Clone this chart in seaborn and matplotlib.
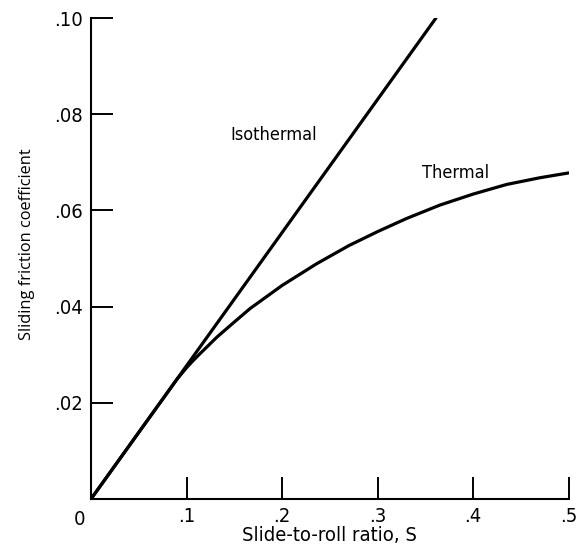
import matplotlib
matplotlib.use("Agg")
import numpy as np
import pandas as pd
import matplotlib.pyplot as plt
import seaborn as sns

# ==============================================================================
# DATA
# ==============================================================================
iso_s = [0.0, 0.361]
iso_f = [0.0, 0.100]

thermal_s = [0.0, 0.05, 0.09, 0.10, 0.107, 0.114, 0.132, 0.15, 0.1665, 0.20, 0.236,
             0.27, 0.30, 0.33, 0.365, 0.40, 0.435, 0.47, 0.50]
thermal_f = [0.0, 0.01385, 0.0249, 0.0273, 0.0288, 0.0302, 0.0337, 0.0368, 0.0396,
             0.0444, 0.0489, 0.0527, 0.0556, 0.0583, 0.0611, 0.0634, 0.0654, 0.0668, 0.0678]

x_ticks = [0.1, 0.2, 0.3, 0.4, 0.5]
x_labels = [".1", ".2", ".3", ".4", ".5"]
y_ticks = [0.02, 0.04, 0.06, 0.08, 0.10]
y_labels = [".02", ".04", ".06", ".08", ".10"]

# ==============================================================================
# STYLE
# ==============================================================================
sns.set_style("ticks")
plt.rcParams['font.family'] = ['DejaVu Sans']
plt.rcParams['font.stretch'] = 'condensed'
plt.rcParams['text.color'] = 'black'
plt.rcParams['xtick.color'] = 'black'
plt.rcParams['ytick.color'] = 'black'
plt.rcParams['axes.labelcolor'] = 'black'

tick_fs = 14.5
note_fs = 13

fig = plt.figure(figsize=(5.81, 5.56), dpi=100)
ax = fig.add_axes([0.1566, 0.1025, 0.8224, 0.8651])

iso_df = pd.DataFrame({"S": iso_s, "f": iso_f})
th_df = pd.DataFrame({"S": thermal_s, "f": thermal_f})

sns.lineplot(data=iso_df, x="S", y="f", ax=ax, color="black", linewidth=2.3)
sns.lineplot(data=th_df, x="S", y="f", ax=ax, color="black", linewidth=2.3)

ax.set_xlim(0, 0.5)
ax.set_ylim(0, 0.10)

ax.set_xticks(x_ticks)
ax.set_xticklabels(x_labels, fontsize=tick_fs)
ax.set_yticks(y_ticks)
ax.set_yticklabels(y_labels, fontsize=tick_fs)
ax.tick_params(axis="both", direction="in", length=16, width=1.4, color="black")
ax.tick_params(axis="x", pad=6)
ax.tick_params(axis="y", pad=6)

for side in ["top", "right"]:
    ax.spines[side].set_visible(False)
for side in ["left", "bottom"]:
    ax.spines[side].set_linewidth(1.5)
    ax.spines[side].set_color("black")

ax.text(-0.0115, -0.0042, "0", ha="center", va="center", fontsize=tick_fs)

ax.text(0.191, 0.0757, "Isothermal", ha="center", va="center", fontsize=note_fs)
ax.text(0.382, 0.0678, "Thermal", ha="center", va="center", fontsize=note_fs)

ax.set_xlabel("Slide-to-roll ratio, S", fontsize=tick_fs)
ax.xaxis.set_label_coords(0.5, -0.056)
ax.set_ylabel("Sliding friction coefficient", fontsize=11.8,
              fontfamily=["Open Sans", "DejaVu Sans"], fontstretch="normal")
ax.yaxis.set_label_coords(-0.118, 0.530)

fig.savefig("out.png", dpi=100)
